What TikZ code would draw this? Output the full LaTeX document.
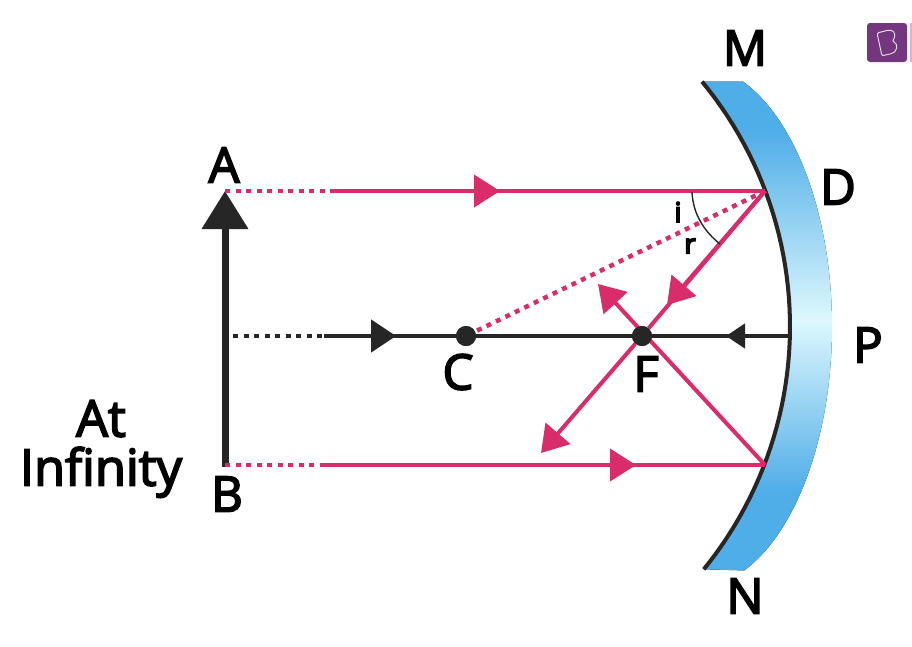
\documentclass[tikz,border=0pt]{standalone}
\usepackage{fontspec}
\setmainfont{Open Sans}
\usetikzlibrary{arrows.meta}
\definecolor{ink}{HTML}{262626}
\definecolor{rayc}{HTML}{D92C6B}
\definecolor{mblue}{HTML}{4FADE8}
\definecolor{mpale}{HTML}{DDF8FD}
\definecolor{logop}{HTML}{73367F}
\pgfdeclareverticalshading{mirrorshade}{100bp}{color(0bp)=(mblue); color(33bp)=(mblue); color(50.6bp)=(mpale); color(70bp)=(mblue); color(100bp)=(mblue)}
\newcommand\heavy[1]{\special{pdf:code 2 Tr 1.7 w 0 0 0 RG}#1\special{pdf:code 0 Tr 1 w}}
\tikzset{
 x=1pt,y=-1pt,
 lab/.style={font=\fontsize{49}{49}\selectfont,inner sep=0pt,text=black},
 widelab/.style={font=\fontsize{50.5}{49}\selectfont,inner sep=0pt,text=black,align=center},
 smalllab/.style={font=\fontsize{27}{27}\selectfont,inner sep=0pt,text=ink},
 rayline/.style={draw=rayc,line width=4pt},
 raydot/.style={draw=rayc,line width=4.5pt,dash pattern=on 5pt off 5.5pt},
 axisline/.style={draw=ink,line width=4.5pt},
 axisdot/.style={draw=ink,line width=4.5pt,dash pattern=on 5pt off 5.5pt},
 rtip/.style={-{Triangle[length=26pt,width=32pt,fill=rayc]}},
 ktip/.style={-{Triangle[length=25pt,width=32pt,fill=ink]}},
 dotnode/.style={circle,fill=ink,minimum size=20pt,inner sep=0pt},
}
\begin{document}
\begin{tikzpicture}
\useasboundingbox (0,0) rectangle (912,646);
% mirror
\fill[shading=mirrorshade] plot[domain=-69.2:68.6,samples=70] ({694+138*cos(\x)},{326.5+262*sin(\x)})
 -- plot[domain=39.1:-39.5,samples=50] ({405+385*cos(\x)},{326.5+385*sin(\x)}) -- cycle;
\draw[draw=ink,line width=4pt] plot[domain=39.1:-39.5,samples=50] ({405+385*cos(\x)},{326.5+385*sin(\x)});
% points
\coordinate (Atop) at (225,191);
\coordinate (Abreak) at (331,191);
\coordinate (Atip) at (500,191);
\coordinate (Dpt) at (765,191);
\coordinate (Btop) at (225,465);
\coordinate (Bbreak) at (322,465);
\coordinate (Btip) at (636,465);
\coordinate (Ept) at (765,465);
\coordinate (Bobj) at (225,467);
\coordinate (Aobj) at (225,191);
\coordinate (Ax0) at (233,336);
\coordinate (Ax1) at (324,336);
\coordinate (Ax2) at (396,336);
\coordinate (Ppt) at (790,336);
\coordinate (Ptip) at (726,336);
\coordinate (Rtip1) at (667,305);
\coordinate (Rtip2) at (541,453);
\coordinate (Rtip3) at (598,284);
\coordinate (Arc0) at (692,192);
\coordinate (Arc1) at (720,244);
\node[dotnode] (Cpt) at (466,336) {};
\node[dotnode] (Fpt) at (642,336) {};
% object
\draw[draw=ink,line width=7pt,-{Triangle[length=38pt,width=45pt,fill=ink]}] (Bobj) -- (Aobj);
% axis
\draw[axisdot] (Ax0) -- (Ax1);
\draw[axisline] (Ax1) -- (Ppt);
\draw[axisline,ktip] (Ax1) -- (Ax2);
\draw[axisline,-{Triangle[length=19pt,width=24pt,fill=ink]}] (Ppt) -- (Ptip);
% rays
\draw[raydot] (Atop) -- (Abreak);
\draw[rayline] (Abreak) -- (Dpt);
\draw[rayline,rtip] (Abreak) -- (Atip);
\draw[raydot] (Dpt) -- (Cpt);
\draw[rayline] (Dpt) -- (Fpt);
\draw[rayline,rtip] (Dpt) -- (Rtip1);
\draw[rayline,rtip] (Fpt) -- (Rtip2);
\draw[raydot] (Btop) -- (Bbreak);
\draw[rayline] (Bbreak) -- (Ept);
\draw[rayline,rtip] (Bbreak) -- (Btip);
\draw[rayline,rtip] (Ept) -- (Rtip3);
\node[dotnode] at (Cpt) {};
\node[dotnode] at (Fpt) {};
\draw[draw=ink,line width=1.4pt] (Arc0) .. controls (693,215) and (705,232) .. (Arc1);
% labels
\node[lab] (lA) at (224,165) {\heavy{A}};
\node[lab] (lB) at (227,494) {\heavy{B}};
\node[lab] (lC) at (458,372) {\heavy{C}};
\node[lab] (lF) at (646,374) {\heavy{F}};
\node[lab] (lD) at (838,187) {\heavy{D}};
\node[lab] (lM) at (745,48) {\heavy{M}};
\node[lab] (lN) at (745,596) {\heavy{N}};
\node[lab] (lP) at (868,345) {\heavy{P}};
\node[widelab] (lInf) at (101,449) {\heavy{At}\\\heavy{Infinity}};
\node[smalllab] (li) at (678,212) {\heavy{i}};
\node[smalllab] (lr) at (690,246) {\heavy{r}};
% logo
\fill[logop,rounded corners=3pt] (867,23) rectangle (907,62);
\fill[logop!35!white] (910,23) rectangle (912,62);
\draw[white!80!logop,line width=1pt,rounded corners=2pt] (877,33) -- (889,30) .. controls (896,31) and (895,38) .. (892,41) .. controls (899,44) and (897,53) .. (889,54) -- (882,56) -- cycle;
\end{tikzpicture}
\end{document}
